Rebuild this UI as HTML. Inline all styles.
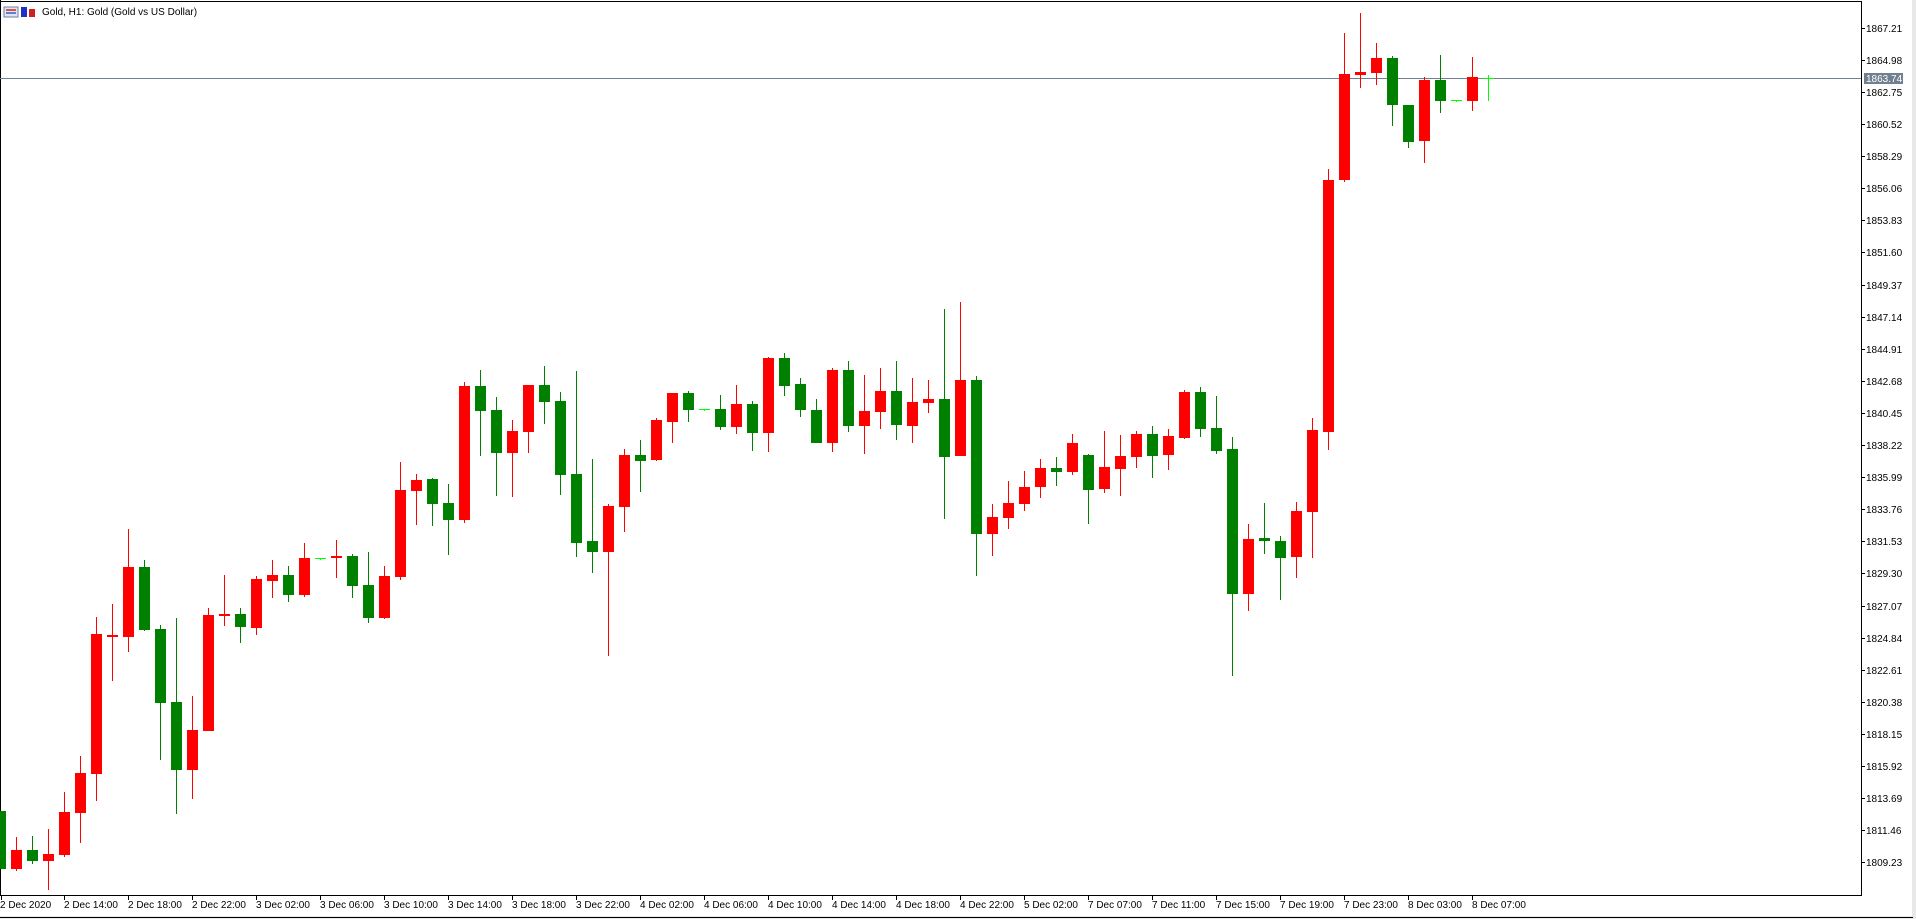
<!DOCTYPE html>
<html><head><meta charset="utf-8"><style>
html,body{margin:0;padding:0;background:#fff;width:1916px;height:919px;overflow:hidden}
svg{display:block}
text{font-family:"Liberation Sans",sans-serif;font-size:10px;fill:#000}
</style></head><body>
<svg width="1916" height="919" viewBox="0 0 1916 919" xmlns="http://www.w3.org/2000/svg">
<rect x="0" y="0" width="1916" height="919" fill="#fff"/>
<rect x="1912" y="0" width="4" height="919" fill="#e8e8e8"/>
<rect x="0" y="916" width="1916" height="3" fill="#e8e8e8"/>
<line x1="0" y1="917.5" x2="1913" y2="917.5" stroke="#000" stroke-width="1"/>
<line x1="0.5" y1="0" x2="0.5" y2="896" stroke="#000"/>
<line x1="0" y1="1.5" x2="1862" y2="1.5" stroke="#000"/>
<line x1="1861.5" y1="1" x2="1861.5" y2="896" stroke="#000"/>
<line x1="0" y1="895.5" x2="1862" y2="895.5" stroke="#000"/>
<!-- title -->
<rect x="4" y="7" width="14" height="10" fill="#dfe6f2" stroke="#7080a0" stroke-width="1"/>
<rect x="6" y="9" width="10" height="2" fill="#e05050"/><rect x="6" y="12" width="10" height="2" fill="#6080d0"/>
<rect x="21" y="7" width="6" height="10" fill="#2030c0"/><rect x="29" y="9" width="6" height="8" fill="#d02020"/>
<text x="42" y="15" font-size="11">Gold, H1:  Gold (Gold vs US Dollar)</text>
<!-- current price line -->
<line x1="0" y1="78.5" x2="1861" y2="78.5" stroke="#708090" stroke-width="1"/>
<!-- candles -->
<g id="c">
<g fill="#008000"><rect x="0" y="811" width="1" height="58"/><rect x="-5" y="811" width="11" height="58"/></g>
<g fill="#f00"><rect x="16" y="837" width="1" height="34"/><rect x="11" y="850" width="11" height="19"/></g>
<g fill="#008000"><rect x="32" y="836" width="1" height="28"/><rect x="27" y="850" width="11" height="11"/></g>
<g fill="#f00"><rect x="48" y="829" width="1" height="61"/><rect x="43" y="854" width="11" height="7"/></g>
<g fill="#f00"><rect x="64" y="792" width="1" height="65"/><rect x="59" y="812" width="11" height="43"/></g>
<g fill="#f00"><rect x="80" y="756" width="1" height="87"/><rect x="75" y="773" width="11" height="40"/></g>
<g fill="#f00"><rect x="96" y="617" width="1" height="184"/><rect x="91" y="634" width="11" height="140"/></g>
<g fill="#f00"><rect x="112" y="604" width="1" height="77"/><rect x="107" y="635" width="11" height="2"/></g>
<g fill="#f00"><rect x="128" y="529" width="1" height="123"/><rect x="123" y="567" width="11" height="70"/></g>
<g fill="#008000"><rect x="144" y="560" width="1" height="71"/><rect x="139" y="567" width="11" height="63"/></g>
<g fill="#008000"><rect x="160" y="625" width="1" height="135"/><rect x="155" y="629" width="11" height="74"/></g>
<g fill="#008000"><rect x="176" y="618" width="1" height="196"/><rect x="171" y="702" width="11" height="68"/></g>
<g fill="#f00"><rect x="192" y="696" width="1" height="103"/><rect x="187" y="730" width="11" height="40"/></g>
<g fill="#f00"><rect x="208" y="608" width="1" height="123"/><rect x="203" y="615" width="11" height="116"/></g>
<g fill="#f00"><rect x="224" y="575" width="1" height="51"/><rect x="219" y="614" width="11" height="2"/></g>
<g fill="#008000"><rect x="240" y="608" width="1" height="35"/><rect x="235" y="614" width="11" height="13"/></g>
<g fill="#f00"><rect x="256" y="576" width="1" height="59"/><rect x="251" y="579" width="11" height="49"/></g>
<g fill="#f00"><rect x="272" y="560" width="1" height="38"/><rect x="267" y="575" width="11" height="6"/></g>
<g fill="#008000"><rect x="288" y="566" width="1" height="36"/><rect x="283" y="575" width="11" height="20"/></g>
<g fill="#f00"><rect x="304" y="543" width="1" height="54"/><rect x="299" y="558" width="11" height="37"/></g>
<g fill="#00ff00"><rect x="320" y="558" width="1" height="2"/><rect x="315" y="558" width="11" height="1"/></g>
<g fill="#f00"><rect x="336" y="540" width="1" height="38"/><rect x="331" y="556" width="11" height="2"/></g>
<g fill="#008000"><rect x="352" y="554" width="1" height="44"/><rect x="347" y="556" width="11" height="30"/></g>
<g fill="#008000"><rect x="368" y="552" width="1" height="71"/><rect x="363" y="585" width="11" height="33"/></g>
<g fill="#f00"><rect x="384" y="566" width="1" height="53"/><rect x="379" y="576" width="11" height="42"/></g>
<g fill="#f00"><rect x="400" y="462" width="1" height="118"/><rect x="395" y="490" width="11" height="87"/></g>
<g fill="#f00"><rect x="416" y="474" width="1" height="51"/><rect x="411" y="480" width="11" height="11"/></g>
<g fill="#008000"><rect x="432" y="478" width="1" height="48"/><rect x="427" y="479" width="11" height="25"/></g>
<g fill="#008000"><rect x="448" y="484" width="1" height="71"/><rect x="443" y="503" width="11" height="17"/></g>
<g fill="#f00"><rect x="464" y="382" width="1" height="141"/><rect x="459" y="386" width="11" height="134"/></g>
<g fill="#008000"><rect x="480" y="370" width="1" height="86"/><rect x="475" y="386" width="11" height="25"/></g>
<g fill="#008000"><rect x="496" y="397" width="1" height="99"/><rect x="491" y="410" width="11" height="43"/></g>
<g fill="#f00"><rect x="512" y="420" width="1" height="77"/><rect x="507" y="431" width="11" height="22"/></g>
<g fill="#f00"><rect x="528" y="385" width="1" height="68"/><rect x="523" y="385" width="11" height="47"/></g>
<g fill="#008000"><rect x="544" y="366" width="1" height="58"/><rect x="539" y="385" width="11" height="17"/></g>
<g fill="#008000"><rect x="560" y="392" width="1" height="103"/><rect x="555" y="401" width="11" height="74"/></g>
<g fill="#008000"><rect x="576" y="371" width="1" height="186"/><rect x="571" y="474" width="11" height="69"/></g>
<g fill="#008000"><rect x="592" y="459" width="1" height="114"/><rect x="587" y="541" width="11" height="11"/></g>
<g fill="#f00"><rect x="608" y="504" width="1" height="152"/><rect x="603" y="506" width="11" height="46"/></g>
<g fill="#f00"><rect x="624" y="449" width="1" height="83"/><rect x="619" y="455" width="11" height="52"/></g>
<g fill="#008000"><rect x="640" y="440" width="1" height="52"/><rect x="635" y="455" width="11" height="6"/></g>
<g fill="#f00"><rect x="656" y="418" width="1" height="43"/><rect x="651" y="420" width="11" height="40"/></g>
<g fill="#f00"><rect x="672" y="393" width="1" height="50"/><rect x="667" y="393" width="11" height="29"/></g>
<g fill="#008000"><rect x="688" y="391" width="1" height="31"/><rect x="683" y="393" width="11" height="17"/></g>
<g fill="#00ff00"><rect x="704" y="409" width="1" height="2"/><rect x="699" y="409" width="11" height="1"/></g>
<g fill="#008000"><rect x="720" y="395" width="1" height="35"/><rect x="715" y="409" width="11" height="18"/></g>
<g fill="#f00"><rect x="736" y="385" width="1" height="49"/><rect x="731" y="404" width="11" height="23"/></g>
<g fill="#008000"><rect x="752" y="401" width="1" height="50"/><rect x="747" y="404" width="11" height="29"/></g>
<g fill="#f00"><rect x="768" y="357" width="1" height="95"/><rect x="763" y="358" width="11" height="75"/></g>
<g fill="#008000"><rect x="784" y="353" width="1" height="43"/><rect x="779" y="358" width="11" height="28"/></g>
<g fill="#008000"><rect x="800" y="378" width="1" height="39"/><rect x="795" y="384" width="11" height="26"/></g>
<g fill="#008000"><rect x="816" y="399" width="1" height="44"/><rect x="811" y="410" width="11" height="33"/></g>
<g fill="#f00"><rect x="832" y="368" width="1" height="84"/><rect x="827" y="370" width="11" height="73"/></g>
<g fill="#008000"><rect x="848" y="361" width="1" height="71"/><rect x="843" y="370" width="11" height="56"/></g>
<g fill="#f00"><rect x="864" y="375" width="1" height="79"/><rect x="859" y="411" width="11" height="15"/></g>
<g fill="#f00"><rect x="880" y="368" width="1" height="61"/><rect x="875" y="391" width="11" height="21"/></g>
<g fill="#008000"><rect x="896" y="361" width="1" height="79"/><rect x="891" y="391" width="11" height="34"/></g>
<g fill="#f00"><rect x="912" y="378" width="1" height="65"/><rect x="907" y="402" width="11" height="24"/></g>
<g fill="#f00"><rect x="928" y="380" width="1" height="33"/><rect x="923" y="399" width="11" height="4"/></g>
<g fill="#008000"><rect x="944" y="309" width="1" height="210"/><rect x="939" y="399" width="11" height="58"/></g>
<g fill="#f00"><rect x="960" y="302" width="1" height="154"/><rect x="955" y="380" width="11" height="76"/></g>
<g fill="#008000"><rect x="976" y="376" width="1" height="200"/><rect x="971" y="380" width="11" height="154"/></g>
<g fill="#f00"><rect x="992" y="504" width="1" height="52"/><rect x="987" y="517" width="11" height="17"/></g>
<g fill="#f00"><rect x="1008" y="481" width="1" height="48"/><rect x="1003" y="503" width="11" height="15"/></g>
<g fill="#f00"><rect x="1024" y="471" width="1" height="40"/><rect x="1019" y="487" width="11" height="17"/></g>
<g fill="#f00"><rect x="1040" y="459" width="1" height="39"/><rect x="1035" y="468" width="11" height="19"/></g>
<g fill="#008000"><rect x="1056" y="457" width="1" height="29"/><rect x="1051" y="468" width="11" height="4"/></g>
<g fill="#f00"><rect x="1072" y="434" width="1" height="41"/><rect x="1067" y="443" width="11" height="29"/></g>
<g fill="#008000"><rect x="1088" y="454" width="1" height="70"/><rect x="1083" y="455" width="11" height="35"/></g>
<g fill="#f00"><rect x="1104" y="431" width="1" height="62"/><rect x="1099" y="467" width="11" height="22"/></g>
<g fill="#f00"><rect x="1120" y="435" width="1" height="61"/><rect x="1115" y="456" width="11" height="13"/></g>
<g fill="#f00"><rect x="1136" y="431" width="1" height="37"/><rect x="1131" y="434" width="11" height="23"/></g>
<g fill="#008000"><rect x="1152" y="426" width="1" height="52"/><rect x="1147" y="434" width="11" height="22"/></g>
<g fill="#f00"><rect x="1168" y="429" width="1" height="41"/><rect x="1163" y="436" width="11" height="19"/></g>
<g fill="#f00"><rect x="1184" y="390" width="1" height="49"/><rect x="1179" y="392" width="11" height="46"/></g>
<g fill="#008000"><rect x="1200" y="387" width="1" height="50"/><rect x="1195" y="392" width="11" height="37"/></g>
<g fill="#008000"><rect x="1216" y="396" width="1" height="58"/><rect x="1211" y="428" width="11" height="23"/></g>
<g fill="#008000"><rect x="1232" y="437" width="1" height="239"/><rect x="1227" y="449" width="11" height="145"/></g>
<g fill="#f00"><rect x="1248" y="524" width="1" height="87"/><rect x="1243" y="539" width="11" height="55"/></g>
<g fill="#008000"><rect x="1264" y="503" width="1" height="51"/><rect x="1259" y="538" width="11" height="3"/></g>
<g fill="#008000"><rect x="1280" y="536" width="1" height="64"/><rect x="1275" y="541" width="11" height="17"/></g>
<g fill="#f00"><rect x="1296" y="502" width="1" height="76"/><rect x="1291" y="511" width="11" height="46"/></g>
<g fill="#f00"><rect x="1312" y="418" width="1" height="140"/><rect x="1307" y="430" width="11" height="82"/></g>
<g fill="#f00"><rect x="1328" y="169" width="1" height="281"/><rect x="1323" y="180" width="11" height="252"/></g>
<g fill="#f00"><rect x="1344" y="33" width="1" height="149"/><rect x="1339" y="74" width="11" height="106"/></g>
<g fill="#f00"><rect x="1360" y="13" width="1" height="75"/><rect x="1355" y="72" width="11" height="3"/></g>
<g fill="#f00"><rect x="1376" y="43" width="1" height="42"/><rect x="1371" y="58" width="11" height="15"/></g>
<g fill="#008000"><rect x="1392" y="56" width="1" height="70"/><rect x="1387" y="58" width="11" height="47"/></g>
<g fill="#008000"><rect x="1408" y="105" width="1" height="43"/><rect x="1403" y="105" width="11" height="37"/></g>
<g fill="#f00"><rect x="1424" y="77" width="1" height="86"/><rect x="1419" y="80" width="11" height="61"/></g>
<g fill="#008000"><rect x="1440" y="55" width="1" height="58"/><rect x="1435" y="80" width="11" height="21"/></g>
<g fill="#00ff00"><rect x="1456" y="100" width="1" height="2"/><rect x="1451" y="100" width="11" height="1"/></g>
<g fill="#f00"><rect x="1472" y="57" width="1" height="54"/><rect x="1467" y="77" width="11" height="24"/></g>
<g fill="#00ff00"><rect x="1488" y="75" width="1" height="26"/><rect x="1483" y="78" width="11" height="1"/></g>
</g>
<!-- price axis -->
<g stroke="#000">
<line x1="1862" y1="28.5" x2="1865" y2="28.5"/><line x1="1862" y1="60.5" x2="1865" y2="60.5"/><line x1="1862" y1="92.5" x2="1865" y2="92.5"/><line x1="1862" y1="124.5" x2="1865" y2="124.5"/><line x1="1862" y1="156.5" x2="1865" y2="156.5"/><line x1="1862" y1="188.5" x2="1865" y2="188.5"/><line x1="1862" y1="220.5" x2="1865" y2="220.5"/><line x1="1862" y1="252.5" x2="1865" y2="252.5"/><line x1="1862" y1="285.5" x2="1865" y2="285.5"/><line x1="1862" y1="317.5" x2="1865" y2="317.5"/><line x1="1862" y1="349.5" x2="1865" y2="349.5"/><line x1="1862" y1="381.5" x2="1865" y2="381.5"/><line x1="1862" y1="413.5" x2="1865" y2="413.5"/><line x1="1862" y1="445.5" x2="1865" y2="445.5"/><line x1="1862" y1="477.5" x2="1865" y2="477.5"/><line x1="1862" y1="509.5" x2="1865" y2="509.5"/><line x1="1862" y1="541.5" x2="1865" y2="541.5"/><line x1="1862" y1="573.5" x2="1865" y2="573.5"/><line x1="1862" y1="606.5" x2="1865" y2="606.5"/><line x1="1862" y1="638.5" x2="1865" y2="638.5"/><line x1="1862" y1="670.5" x2="1865" y2="670.5"/><line x1="1862" y1="702.5" x2="1865" y2="702.5"/><line x1="1862" y1="734.5" x2="1865" y2="734.5"/><line x1="1862" y1="766.5" x2="1865" y2="766.5"/><line x1="1862" y1="798.5" x2="1865" y2="798.5"/><line x1="1862" y1="830.5" x2="1865" y2="830.5"/><line x1="1862" y1="862.5" x2="1865" y2="862.5"/>
</g>
<g>
<text x="1866" y="32">1867.21</text><text x="1866" y="64">1864.98</text><text x="1866" y="96">1862.75</text><text x="1866" y="128">1860.52</text><text x="1866" y="160">1858.29</text><text x="1866" y="192">1856.06</text><text x="1866" y="224">1853.83</text><text x="1866" y="256">1851.60</text><text x="1866" y="289">1849.37</text><text x="1866" y="321">1847.14</text><text x="1866" y="353">1844.91</text><text x="1866" y="385">1842.68</text><text x="1866" y="417">1840.45</text><text x="1866" y="449">1838.22</text><text x="1866" y="481">1835.99</text><text x="1866" y="513">1833.76</text><text x="1866" y="545">1831.53</text><text x="1866" y="577">1829.30</text><text x="1866" y="610">1827.07</text><text x="1866" y="642">1824.84</text><text x="1866" y="674">1822.61</text><text x="1866" y="706">1820.38</text><text x="1866" y="738">1818.15</text><text x="1866" y="770">1815.92</text><text x="1866" y="802">1813.69</text><text x="1866" y="834">1811.46</text><text x="1866" y="866">1809.23</text>
</g>
<rect x="1864" y="73" width="39" height="11" fill="#708090"/>
<text x="1866" y="82" style="fill:#fff">1863.74</text>
<!-- time axis -->
<g stroke="#000">
<line x1="1.5" y1="896" x2="1.5" y2="900"/><line x1="64.5" y1="896" x2="64.5" y2="900"/><line x1="128.5" y1="896" x2="128.5" y2="900"/><line x1="192.5" y1="896" x2="192.5" y2="900"/><line x1="256.5" y1="896" x2="256.5" y2="900"/><line x1="320.5" y1="896" x2="320.5" y2="900"/><line x1="384.5" y1="896" x2="384.5" y2="900"/><line x1="448.5" y1="896" x2="448.5" y2="900"/><line x1="512.5" y1="896" x2="512.5" y2="900"/><line x1="576.5" y1="896" x2="576.5" y2="900"/><line x1="640.5" y1="896" x2="640.5" y2="900"/><line x1="704.5" y1="896" x2="704.5" y2="900"/><line x1="768.5" y1="896" x2="768.5" y2="900"/><line x1="832.5" y1="896" x2="832.5" y2="900"/><line x1="896.5" y1="896" x2="896.5" y2="900"/><line x1="960.5" y1="896" x2="960.5" y2="900"/><line x1="1024.5" y1="896" x2="1024.5" y2="900"/><line x1="1088.5" y1="896" x2="1088.5" y2="900"/><line x1="1152.5" y1="896" x2="1152.5" y2="900"/><line x1="1216.5" y1="896" x2="1216.5" y2="900"/><line x1="1280.5" y1="896" x2="1280.5" y2="900"/><line x1="1344.5" y1="896" x2="1344.5" y2="900"/><line x1="1408.5" y1="896" x2="1408.5" y2="900"/><line x1="1472.5" y1="896" x2="1472.5" y2="900"/>
</g>
<g>
<text x="0" y="908">2 Dec 2020</text><text x="64" y="908">2 Dec 14:00</text><text x="128" y="908">2 Dec 18:00</text><text x="192" y="908">2 Dec 22:00</text><text x="256" y="908">3 Dec 02:00</text><text x="320" y="908">3 Dec 06:00</text><text x="384" y="908">3 Dec 10:00</text><text x="448" y="908">3 Dec 14:00</text><text x="512" y="908">3 Dec 18:00</text><text x="576" y="908">3 Dec 22:00</text><text x="640" y="908">4 Dec 02:00</text><text x="704" y="908">4 Dec 06:00</text><text x="768" y="908">4 Dec 10:00</text><text x="832" y="908">4 Dec 14:00</text><text x="896" y="908">4 Dec 18:00</text><text x="960" y="908">4 Dec 22:00</text><text x="1024" y="908">5 Dec 02:00</text><text x="1088" y="908">7 Dec 07:00</text><text x="1152" y="908">7 Dec 11:00</text><text x="1216" y="908">7 Dec 15:00</text><text x="1280" y="908">7 Dec 19:00</text><text x="1344" y="908">7 Dec 23:00</text><text x="1408" y="908">8 Dec 03:00</text><text x="1472" y="908">8 Dec 07:00</text>
</g>
</svg>
</body></html>
